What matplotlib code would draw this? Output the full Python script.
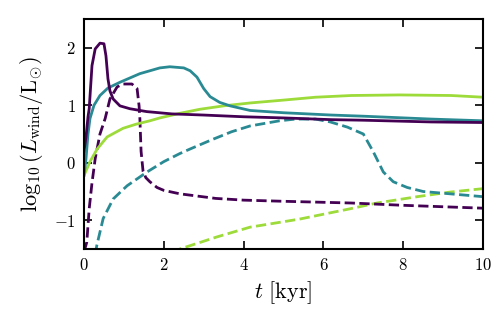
import matplotlib
matplotlib.use("Agg")
import matplotlib.pyplot as plt

plt.rcParams['font.family'] = 'cmr10'
plt.rcParams['mathtext.fontset'] = 'cm'
plt.rcParams['axes.formatter.use_mathtext'] = True

c_purple = '#440154'
c_teal = '#2a8a93'
c_lime = '#9ddb3a'

# purple solid
t_ps = [0.0, 0.05, 0.1, 0.13, 0.2, 0.28, 0.4, 0.5, 0.55, 0.6, 0.65, 0.73, 0.9, 1.15, 1.57, 2.2, 3.0, 4.0, 5.0, 6.2, 7.0, 8.7, 10.0]
y_ps = [0.2, 0.45, 0.8, 0.94, 1.69, 1.98, 2.08, 2.07, 1.86, 1.46, 1.25, 1.11, 0.99, 0.94, 0.89, 0.85, 0.83, 0.80, 0.78, 0.75, 0.74, 0.71, 0.70]

# teal solid
t_ts = [0.0, 0.05, 0.1, 0.15, 0.25, 0.4, 0.6, 0.9, 1.4, 1.9, 2.15, 2.5, 2.66, 2.83, 3.0, 3.16, 3.4, 3.66, 4.16, 5.0, 6.2, 7.0, 8.7, 10.0]
y_ts = [-0.22, 0.07, 0.5, 0.77, 1.0, 1.17, 1.3, 1.4, 1.55, 1.65, 1.67, 1.65, 1.6, 1.49, 1.29, 1.15, 1.05, 0.99, 0.91, 0.87, 0.83, 0.81, 0.76, 0.73]

# lime solid
t_ls = [0.0, 0.15, 0.33, 0.58, 0.98, 1.3, 1.65, 1.9, 2.4, 2.9, 3.5, 4.16, 5.0, 5.8, 6.7, 7.9, 9.2, 10.0]
y_ls = [-0.22, 0.02, 0.24, 0.45, 0.6, 0.67, 0.73, 0.78, 0.86, 0.93, 0.99, 1.04, 1.09, 1.14, 1.17, 1.18, 1.17, 1.14]

# purple dashed
t_pd = [0.0, 0.07, 0.13, 0.2, 0.28, 0.4, 0.53, 0.65, 0.83, 0.98, 1.2, 1.33, 1.38, 1.4, 1.43, 1.48, 1.55, 1.65, 1.83, 2.0, 2.4, 3.3, 4.0, 5.0, 6.7, 8.0, 10.0]
y_pd = [-1.55, -1.38, -0.8, -0.35, 0.07, 0.5, 0.77, 1.11, 1.32, 1.37, 1.37, 1.29, 0.99, 0.77, 0.2, -0.15, -0.26, -0.33, -0.43, -0.48, -0.54, -0.62, -0.65, -0.67, -0.70, -0.74, -0.79]

# teal dashed
t_td = [0.28, 0.32, 0.48, 0.73, 1.08, 1.58, 2.0, 2.4, 2.66, 3.2, 3.7, 4.16, 4.9, 5.3, 5.8, 6.17, 6.6, 7.0, 7.25, 7.5, 7.75, 8.1, 8.5, 9.17, 10.0]
y_td = [-1.6, -1.44, -0.97, -0.63, -0.4, -0.16, 0.02, 0.16, 0.24, 0.4, 0.54, 0.64, 0.73, 0.76, 0.76, 0.71, 0.62, 0.5, 0.19, -0.16, -0.33, -0.43, -0.5, -0.54, -0.59]

# lime dashed
t_ld = [2.2, 2.4, 3.33, 4.16, 5.4, 6.67, 7.34, 8.35, 9.17, 10.0]
y_ld = [-1.56, -1.5, -1.29, -1.12, -0.98, -0.80, -0.70, -0.59, -0.51, -0.45]

fig = plt.figure(figsize=(4.98, 3.12), dpi=100)
ax = fig.add_axes([0.1687, 0.2019, 0.8013, 0.7371])

lw = 2.0
ax.plot(t_ld, y_ld, color=c_lime, lw=lw, ls='--')
ax.plot(t_td, y_td, color=c_teal, lw=lw, ls='--')
ax.plot(t_pd, y_pd, color=c_purple, lw=lw, ls='--')
ax.plot(t_ls, y_ls, color=c_lime, lw=lw)
ax.plot(t_ts, y_ts, color=c_teal, lw=lw)
ax.plot(t_ps, y_ps, color=c_purple, lw=lw)

ax.set_xlim(0, 10)
ax.set_ylim(-1.5, 2.5)
ax.set_xticks([0, 2, 4, 6, 8, 10])
ax.set_yticks([-1, 0, 1, 2])
ax.tick_params(direction='in', top=True, right=True, length=6, width=1.2, labelsize=12, pad=6)
for s in ax.spines.values():
    s.set_linewidth(1.5)

ax.set_xlabel(r'$t\ [\mathrm{kyr}]$', fontsize=16, labelpad=4)
ax.set_ylabel(r'$\log_{10}(L_{\rm wind}/{\rm L}_{\odot})$', fontsize=16, labelpad=6)

fig.savefig('out.png', dpi=100)
